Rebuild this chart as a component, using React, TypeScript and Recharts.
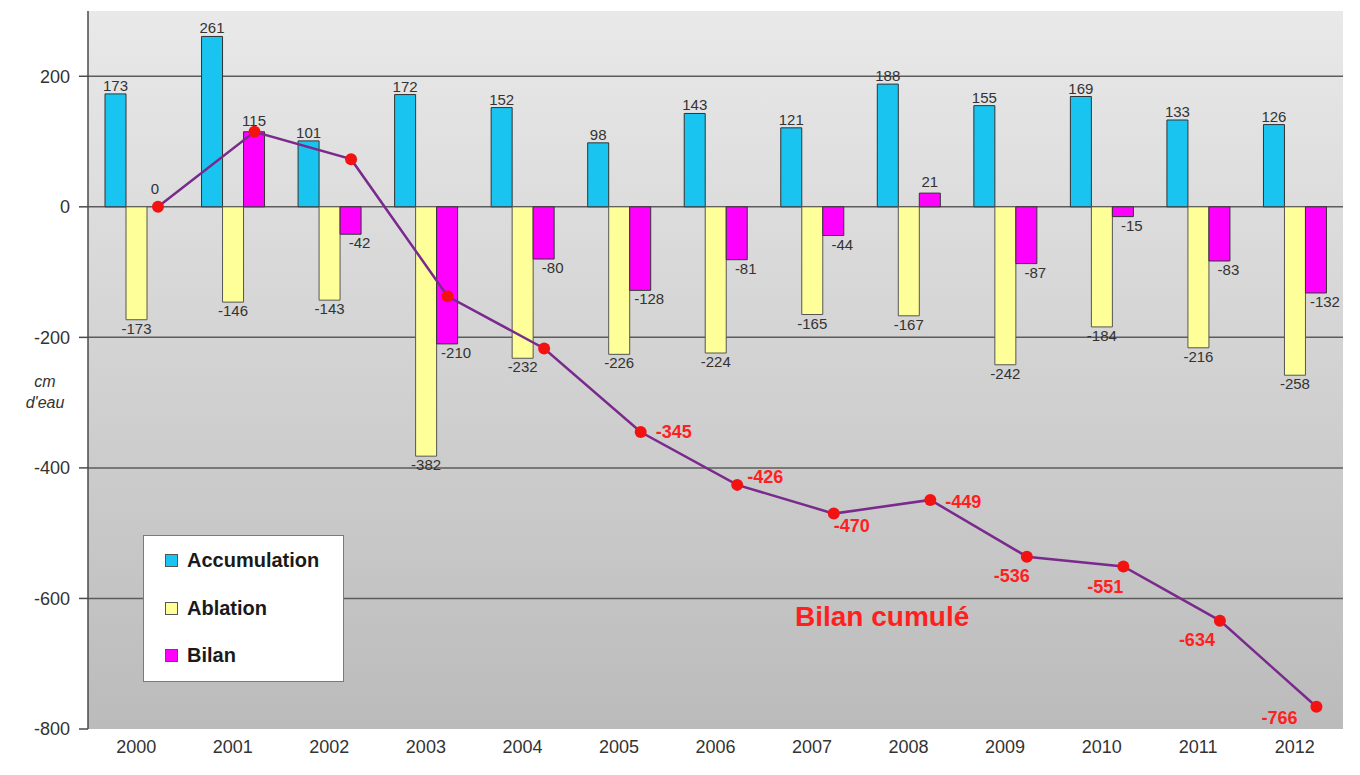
import React from "react";
import {
  ComposedChart,
  Bar,
  Line,
  XAxis,
  YAxis,
  CartesianGrid,
  LabelList,
  Legend,
} from "recharts";

const years = ["2000", "2001", "2002", "2003", "2004", "2005", "2006", "2007", "2008", "2009", "2010", "2011", "2012"];
const accumulation = [173, 261, 101, 172, 152, 98, 143, 121, 188, 155, 169, 133, 126];
const ablation = [-173, -146, -143, -382, -232, -226, -224, -165, -167, -242, -184, -216, -258];
const bilan = [0, 115, -42, -210, -80, -128, -81, -44, 21, -87, -15, -83, -132];
const bilanCumule = [0, 115, 73, -137, -217, -345, -426, -470, -449, -536, -551, -634, -766];
const yTicks = [-800, -600, -400, -200, 0, 200];
const gridValues = [-600, -400, -200, 0, 200];
const legendOrder = ["Accumulation", "Ablation", "Bilan"];

const FONT = "'Liberation Sans', Arial, sans-serif";

// the cumulative line sits over the Bilan bar, one bar width right of the band centre
const LINE_SHIFT = 0.225;

const data = years.map((year, i) => ({
  year,
  pos: i + LINE_SHIFT,
  accumulation: accumulation[i],
  ablation: ablation[i],
  bilan: bilan[i],
  cumul: bilanCumule[i],
}));

// where each label of the cumulative line goes relative to its point (only these points are labelled)
const cumulLabelPlacement: Record<number, { dx: number; dy: number; anchor: "start" | "middle" | "end"; muted?: boolean }> = {
  0: { dx: -3, dy: -18, anchor: "middle", muted: true },
  5: { dx: 15, dy: 0, anchor: "start" },
  6: { dx: 10, dy: -8, anchor: "start" },
  7: { dx: 0, dy: 12, anchor: "start" },
  8: { dx: 15, dy: 2, anchor: "start" },
  9: { dx: 3, dy: 19, anchor: "end" },
  10: { dx: 0, dy: 21, anchor: "end" },
  11: { dx: -5, dy: 19, anchor: "end" },
  12: { dx: -19, dy: 11, anchor: "end" },
};

const makeBarLabel = (negShift: number, posGap: number) => (props: any) => {
  const vb = props.viewBox ?? props;
  const { x, y, width, height } = vb;
  const value = props.value;
  if (value === 0) return null;
  const top = Math.min(y, y + height);
  const bottom = Math.max(y, y + height);
  const cx = x + width / 2;
  if (value > 0) {
    return (
      <text x={cx} y={top - posGap} textAnchor="middle" fontSize={15} fill="#333" fontFamily={FONT}>
        {value}
      </text>
    );
  }
  return (
    <text x={cx + negShift} y={bottom + 14} textAnchor="middle" fontSize={15} fill="#333" fontFamily={FONT}>
      {value}
    </text>
  );
};

const renderCumulLabel = (props: any) => {
  const place = cumulLabelPlacement[props.index];
  if (!place) return null;
  const vb = props.viewBox ?? {};
  const x = vb.x ?? props.x;
  const y = vb.y ?? props.y;
  return (
    <text
      x={x + place.dx}
      y={y + place.dy}
      textAnchor={place.anchor}
      dominantBaseline="central"
      fontSize={place.muted ? 15 : 18}
      fontWeight={place.muted ? "normal" : "bold"}
      fill={place.muted ? "#333" : "#ff1f1f"}
      fontFamily={FONT}
    >
      {props.value}
    </text>
  );
};

const renderLegend = (props: any) => {
  const items = (props.payload ?? [])
    .filter((p: any) => p.type !== "none")
    .sort((a: any, b: any) => legendOrder.indexOf(a.value) - legendOrder.indexOf(b.value));
  return (
    <div
      style={{
        width: 199,
        height: 144,
        background: "#fff",
        border: "1.5px solid #7a7a7a",
        paddingTop: 1,
        boxSizing: "content-box",
        fontFamily: FONT,
      }}
    >
      {items.map((item: any) => (
        <div key={item.value} style={{ height: 47.5, display: "flex", alignItems: "center", paddingLeft: 21 }}>
          <span
            style={{
              display: "inline-block",
              width: 11,
              height: 11,
              background: item.color,
              border: "1px solid #555",
              marginRight: 9,
            }}
          />
          <span style={{ fontSize: 20, fontWeight: "bold", color: "#1a1a1a" }}>{item.value}</span>
        </div>
      ))}
    </div>
  );
};

export default function App() {
  return (
    <div style={{ position: "absolute", left: 0, top: 0, width: 1360, height: 775, background: "#fff", fontFamily: FONT }}>
      <ComposedChart
        width={1360}
        height={775}
        data={data}
        margin={{ top: 11, right: 17, bottom: 0, left: 0 }}
        barSize={21}
        barGap={0}
        style={{ fontFamily: FONT }}
      >
        <defs>
          <linearGradient id="plotBg" x1="0" y1="0" x2="0" y2="1">
            <stop offset="0%" stopColor="#e9e9e9" />
            <stop offset="100%" stopColor="#bbbbbb" />
          </linearGradient>
        </defs>
        <CartesianGrid
          vertical={false}
          horizontalValues={gridValues}
          stroke="#5c5c5c"
          strokeWidth={1.5}
          fill="url(#plotBg)"
          fillOpacity={1}
        />
        <XAxis
          xAxisId="cat"
          dataKey="year"
          axisLine={false}
          tickLine={false}
          tickSize={6}
          tickMargin={5}
          height={46}
          interval={0}
          tick={{ fontSize: 18, fill: "#333" }}
        />
        <XAxis xAxisId="num" type="number" dataKey="pos" domain={[-0.5, 12.5]} hide />
        <YAxis
          width={88}
          domain={[-800, 300]}
          ticks={yTicks}
          interval={0}
          tickSize={9}
          tickMargin={9}
          axisLine={{ stroke: "#4a4a4a", strokeWidth: 1.5 }}
          tickLine={{ stroke: "#4a4a4a", strokeWidth: 1.5 }}
          tick={{ fontSize: 18, fill: "#333" }}
        />
        <Legend
          content={renderLegend}
          layout="vertical"
          align="center"
          verticalAlign="middle"
          wrapperStyle={{ left: 143, top: 535, width: 202, height: 147 }}
        />
        <Bar xAxisId="cat" dataKey="accumulation" name="Accumulation" fill="#19c5f0" stroke="#333" strokeWidth={1} isAnimationActive={false}>
          <LabelList dataKey="accumulation" content={makeBarLabel(0, 3)} />
        </Bar>
        <Bar xAxisId="cat" dataKey="ablation" name="Ablation" fill="#ffff99" stroke="#555" strokeWidth={1} isAnimationActive={false}>
          <LabelList dataKey="ablation" content={makeBarLabel(0, 3)} />
        </Bar>
        <Bar xAxisId="cat" dataKey="bilan" name="Bilan" fill="#ff00ff" stroke="#333" strokeWidth={1} isAnimationActive={false}>
          <LabelList dataKey="bilan" content={makeBarLabel(9, 6)} />
        </Bar>
        <Line
          xAxisId="num"
          dataKey="cumul"
          name="Bilan cumulé"
          legendType="none"
          stroke="#7a2a8c"
          strokeWidth={2.5}
          dot={{ r: 6, fill: "#f21212", stroke: "none" }}
          activeDot={false}
          isAnimationActive={false}
        >
          <LabelList dataKey="cumul" content={renderCumulLabel} />
        </Line>
      </ComposedChart>
      <div
        style={{
          position: "absolute",
          left: 15,
          top: 371,
          width: 60,
          textAlign: "center",
          fontSize: 16,
          fontStyle: "italic",
          lineHeight: "21px",
          color: "#333",
        }}
      >
        cm
        <br />
        d'eau
      </div>
      <div
        style={{
          position: "absolute",
          left: 795,
          top: 603,
          fontSize: 28,
          fontWeight: "bold",
          lineHeight: "28px",
          color: "#ff1f1f",
          whiteSpace: "nowrap",
        }}
      >
        Bilan cumulé
      </div>
    </div>
  );
}
